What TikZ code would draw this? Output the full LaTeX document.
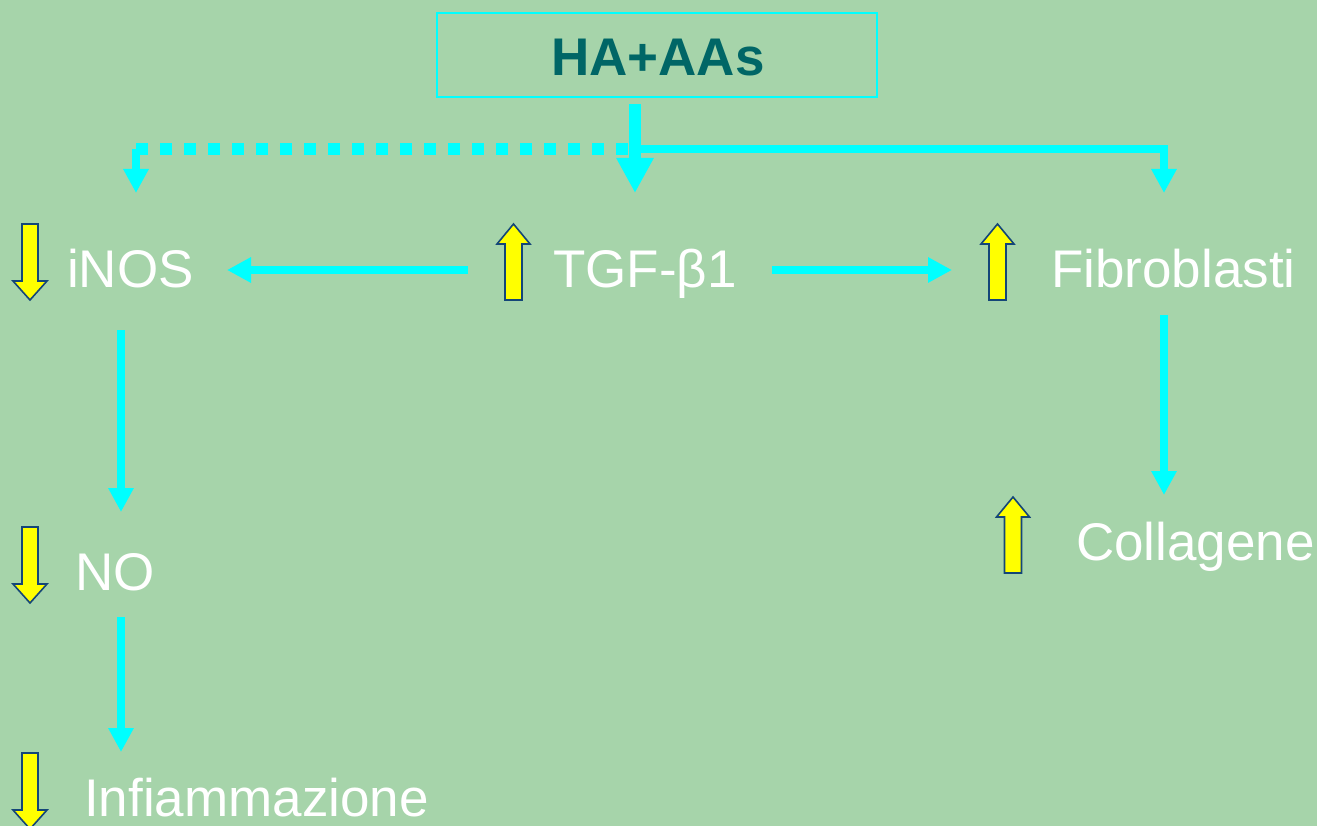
\documentclass[tikz,border=0pt]{standalone}
\usepackage{fontspec}
\setmainfont{Liberation Sans}
\usetikzlibrary{arrows.meta}
\definecolor{bggreen}{RGB}{166,212,170}
\definecolor{flowcyan}{RGB}{0,255,255}
\definecolor{titleteal}{RGB}{0,102,102}
\definecolor{markyellow}{RGB}{255,255,0}
\definecolor{markedge}{RGB}{20,70,120}
\tikzset{
  label/.style={text=white, inner sep=0pt, anchor=base west, font=\fontsize{53}{60}\selectfont},
  flow/.style={draw=flowcyan, line width=8pt, -{Triangle[width=24pt,length=24pt]}},
  mainflow/.style={draw=flowcyan, line width=12pt, -{Triangle[width=35pt,length=35pt]}},
  dotflow/.style={draw=flowcyan, line width=12pt, dash pattern=on 12pt off 12pt},
  yelup/.pic={\draw[fill=markyellow, draw=markedge, line width=1.6pt, line join=miter]
      (0,0) -- (16.5,20) -- (8.5,20) -- (8.5,76) -- (-8.5,76) -- (-8.5,20) -- (-16.5,20) -- cycle;},
  yeldown/.pic={\draw[fill=markyellow, draw=markedge, line width=1.6pt, line join=miter]
      (-8,0) -- (8,0) -- (8,57) -- (17,57) -- (0,76) -- (-17,57) -- (-8,57) -- cycle;}
}
\begin{document}
\begin{tikzpicture}[x=1pt, y=-1pt]
  % canvas
  \fill[bggreen] (0,0) rectangle (1317,826);
  \useasboundingbox (0,0) rectangle (1317,826);

  % source box
  \node[draw=flowcyan, line width=2pt, minimum width=440pt, minimum height=84pt, inner sep=0pt]
    (src) at (657,55) {};
  \node[text=titleteal, inner sep=0pt, anchor=base, font=\fontsize{53}{60}\selectfont\bfseries]
    (srclabel) at (658,76) {HA+AAs};

  % labels
  \node[label] (inos) at (67,288) {iNOS};
  \node[label] (tgf)  at (553,288) {TGF-β1};
  \node[label] (fib)  at (1051,288) {Fibroblasti};
  \node[label] (no)   at (75,590) {NO};
  \node[label] (infl) at (84,816) {Infiammazione};
  \node[label] (coll) at (1076,560) {Collagene};

  % up / down markers
  \pic at (30,224) {yeldown};
  \pic at (30,527) {yeldown};
  \pic at (30,753) {yeldown};
  \pic at (513.5,224) {yelup};
  \pic at (997.5,224) {yelup};
  \pic at (1013,497) {yelup};

  % branching from the source box
  \coordinate (stemtop) at (635,104);
  \coordinate (stemend) at (635,193);
  \coordinate (split)   at (641,149);
  \coordinate (dotstart) at (136,149);
  \coordinate (dotend)   at (628,149);
  \coordinate (inosin)  at (136,193);
  \coordinate (fibin)   at (1164,193);
  \draw[dotflow] (dotstart) -- (dotend);
  \draw[flow] (dotstart) -- (inosin);
  \draw[flow, line join=miter] (split) -| (fibin);
  \draw[mainflow] (stemtop) -- (stemend);

  % second row
  \coordinate (tgfl) at (468,270);
  \coordinate (inosr) at (227,270);
  \coordinate (tgfr) at (772,270);
  \coordinate (fibl) at (952,270);
  \draw[flow] (tgfl) -- (inosr);
  \draw[flow] (tgfr) -- (fibl);

  % vertical chains
  \coordinate (inosb) at (121,330);
  \coordinate (notop) at (121,512);
  \coordinate (nob)   at (121,617);
  \coordinate (infltop) at (121,752);
  \coordinate (fibb)  at (1164,315);
  \coordinate (colltop) at (1164,495);
  \draw[flow] (inosb) -- (notop);
  \draw[flow] (nob) -- (infltop);
  \draw[flow] (fibb) -- (colltop);
\end{tikzpicture}
\end{document}
